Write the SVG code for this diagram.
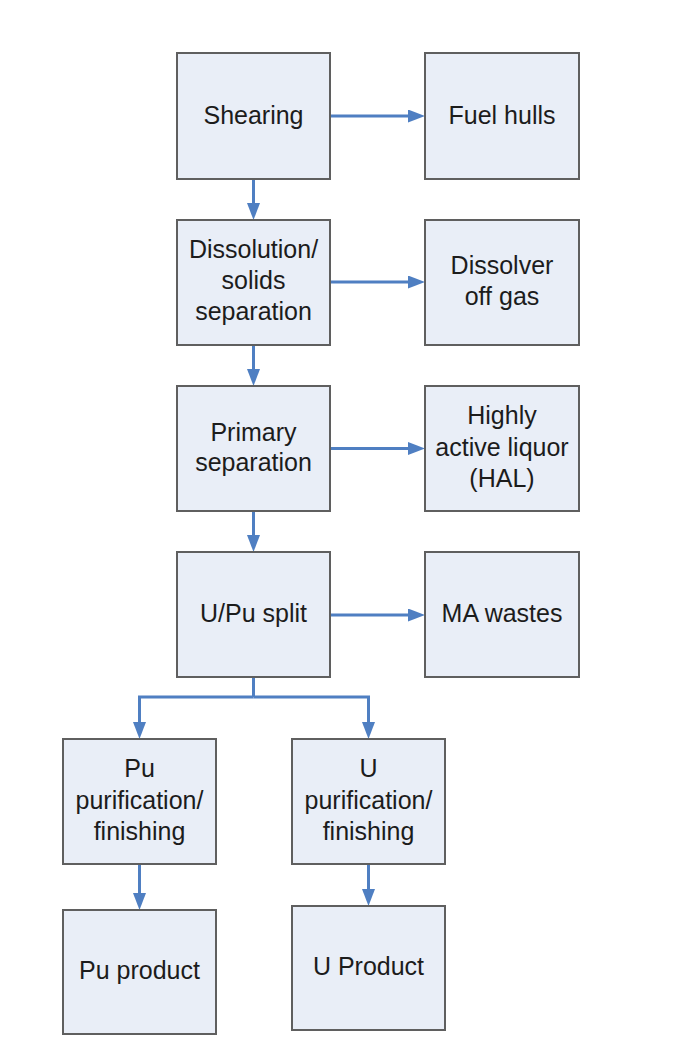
<svg xmlns="http://www.w3.org/2000/svg" width="680" height="1046" viewBox="0 0 680 1046">
<style>
.box{fill:#E9EEF7;stroke:#5f5f5f;stroke-width:2}
.t{font-family:"Liberation Sans",Arial,sans-serif;font-size:25px;fill:#1c1c1c;text-anchor:middle}
.c{fill:none;stroke:#4F7FC2;stroke-width:3}
</style>
<defs>
<marker id="ah" markerUnits="userSpaceOnUse" markerWidth="18" markerHeight="14" refX="7" refY="6.5" orient="auto">
<path d="M0,0 L17,6.5 L0,13 z" fill="#4F7FC2"/>
</marker>
</defs>
<rect width="680" height="1046" fill="#ffffff"/>
<g id="connectors">
<path class="c" d="M330,116 H415" marker-end="url(#ah)"/>
<path class="c" d="M330,282 H415" marker-end="url(#ah)"/>
<path class="c" d="M330,448.5 H415" marker-end="url(#ah)"/>
<path class="c" d="M330,615 H415" marker-end="url(#ah)"/>
<path class="c" d="M253.5,179 V210" marker-end="url(#ah)"/>
<path class="c" d="M253.5,345 V376" marker-end="url(#ah)"/>
<path class="c" d="M253.5,511 V542" marker-end="url(#ah)"/>
<path class="c" d="M253.5,677 V697"/>
<path class="c" d="M253.5,697 H139.5 V729" marker-end="url(#ah)"/>
<path class="c" d="M253.5,697 H368.5 V729" marker-end="url(#ah)"/>
<path class="c" d="M139.5,864 V900" marker-end="url(#ah)"/>
<path class="c" d="M368.5,864 V896" marker-end="url(#ah)"/>
</g>
<g id="shearing"><rect class="box" x="177" y="53" width="153" height="126"/><text class="t" x="253.5" y="123.5">Shearing</text></g>
<g id="fuel-hulls"><rect class="box" x="425" y="53" width="154" height="126"/><text class="t" x="502" y="123.5">Fuel hulls</text></g>
<g id="dissolution"><rect class="box" x="177" y="220" width="153" height="125"/><text class="t" x="253.5" y="258">Dissolution/</text><text class="t" x="253.5" y="289">solids</text><text class="t" x="253.5" y="320">separation</text></g>
<g id="dissolver-off-gas"><rect class="box" x="425" y="220" width="154" height="125"/><text class="t" x="502" y="273.5">Dissolver</text><text class="t" x="502" y="304.5">off gas</text></g>
<g id="primary-separation"><rect class="box" x="177" y="386" width="153" height="125"/><text class="t" x="253.5" y="440.5">Primary</text><text class="t" x="253.5" y="470.5">separation</text></g>
<g id="hal"><rect class="box" x="425" y="386" width="154" height="125"/><text class="t" x="502" y="424">Highly</text><text class="t" x="502" y="455.5">active liquor</text><text class="t" x="502" y="487">(HAL)</text></g>
<g id="u-pu-split"><rect class="box" x="177" y="552" width="153" height="125"/><text class="t" x="253.5" y="622">U/Pu split</text></g>
<g id="ma-wastes"><rect class="box" x="425" y="552" width="154" height="125"/><text class="t" x="502" y="622">MA wastes</text></g>
<g id="pu-purification"><rect class="box" x="63" y="739" width="153" height="125"/><text class="t" x="139.5" y="777">Pu</text><text class="t" x="139.5" y="809">purification/</text><text class="t" x="139.5" y="840">finishing</text></g>
<g id="u-purification"><rect class="box" x="292" y="739" width="153" height="125"/><text class="t" x="368.5" y="777">U</text><text class="t" x="368.5" y="809">purification/</text><text class="t" x="368.5" y="840">finishing</text></g>
<g id="pu-product"><rect class="box" x="63" y="910" width="153" height="124"/><text class="t" x="139.5" y="978.5">Pu product</text></g>
<g id="u-product"><rect class="box" x="292" y="906" width="153" height="124"/><text class="t" x="368.5" y="974.5">U Product</text></g>
</svg>
